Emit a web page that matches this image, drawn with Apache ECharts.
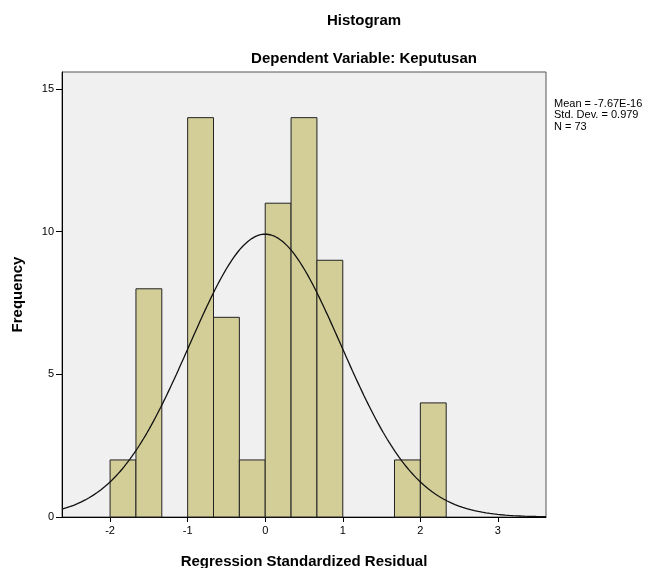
<!DOCTYPE html>
<html><head><meta charset="utf-8">
<script src="https://cdn.jsdelivr.net/npm/echarts@6/dist/echarts.min.js"></script>
<style>html,body{margin:0;padding:0;background:#fff}#c{width:655px;height:568px}</style>
</head><body><div id="c"></div>
<script>
// Histogram bins (width 1/3, starting at -2)
const binStarts = [-2, -5/3, -4/3, -1, -2/3, -1/3, 0, 1/3, 2/3, 1, 4/3, 5/3, 2];
const binWidth = 1/3;
const counts = [2, 8, 0, 14, 7, 2, 11, 14, 9, 0, 0, 2, 4];
const xTicks = [-2, -1, 0, 1, 2, 3];
const yTicks = [0, 5, 10, 15];
const statsMean = -7.67e-16, statsSD = 0.979, statsN = 73;
const statLines = ['Mean = -7.67E-16', 'Std. Dev. = 0.979', 'N = 73'];

// Fitted normal curve from the stated Mean, Std. Dev. and N
const curve = [];
for (let i = 0; i <= 250; i++) {
  const x = -2.62 + i * (6.24 / 250);
  const z = (x - statsMean) / statsSD;
  curve.push([x, statsN * binWidth * Math.exp(-0.5 * z * z) / (statsSD * Math.sqrt(2 * Math.PI))]);
}

const barData = binStarts.map((s, i) => [s, s + binWidth, counts[i]]).filter(d => d[2] > 0);
const F = 'Liberation Sans, Arial, sans-serif';
const chart = echarts.init(document.getElementById('c'));
chart.setOption({
  animation: false,
  graphic: [
    {type: 'text', x: 364, y: 21, style: {text: 'Histogram', font: 'bold 15px ' + F, fill: '#000', align: 'center', verticalAlign: 'middle'}},
    {type: 'text', x: 364, y: 59, style: {text: 'Dependent Variable: Keputusan', font: 'bold 15px ' + F, fill: '#000', align: 'center', verticalAlign: 'middle'}},
    {type: 'text', x: 554, y: 98, style: {text: statLines.join('\n'), font: '11px ' + F, fill: '#000', lineHeight: 11.5}}
  ],
  grid: {left: 62, right: 109, top: 72, bottom: 51, show: true, backgroundColor: '#f0f0f0', borderColor: '#555', borderWidth: 1, outerBoundsMode: 'none', containLabel: false},
  xAxis: {
    type: 'value', min: -2.62, max: 3.62,
    name: 'Regression Standardized Residual', nameLocation: 'middle', nameGap: 37,
    nameTextStyle: {fontFamily: F, fontSize: 15, fontWeight: 'bold', color: '#000'},
    splitLine: {show: false},
    axisLine: {show: true, onZero: false, lineStyle: {color: '#000'}},
    axisTick: {show: true, length: 5, lineStyle: {color: '#000'}, customValues: xTicks},
    axisLabel: {fontFamily: F, fontSize: 11, color: '#000', margin: 8, customValues: xTicks, formatter: v => String(v)}
  },
  yAxis: {
    type: 'value', min: 0, max: 15.6,
    name: 'Frequency', nameLocation: 'middle', nameGap: 37, nameRotate: 90,
    nameTextStyle: {fontFamily: F, fontSize: 15, fontWeight: 'bold', color: '#000'},
    splitLine: {show: false},
    axisLine: {show: true, onZero: false, lineStyle: {color: '#000'}},
    axisTick: {show: true, length: 6, lineStyle: {color: '#000'}, customValues: yTicks},
    axisLabel: {fontFamily: F, fontSize: 11, color: '#000', margin: 8, customValues: yTicks}
  },
  series: [
    {
      type: 'custom', data: barData,
      encode: {x: [0, 1], y: 2},
      renderItem: function (params, api) {
        const p0 = api.coord([api.value(0), 0]);
        const p1 = api.coord([api.value(1), api.value(2)]);
        return {
          type: 'rect',
          shape: {x: p0[0], y: p1[1], width: p1[0] - p0[0], height: p0[1] - p1[1]},
          style: {fill: '#d3ce98', stroke: '#222', lineWidth: 1}
        };
      }
    },
    {
      type: 'line', data: curve, showSymbol: false, smooth: false,
      lineStyle: {color: '#111', width: 1.3}, z: 5
    }
  ]
});
</script></body></html>
